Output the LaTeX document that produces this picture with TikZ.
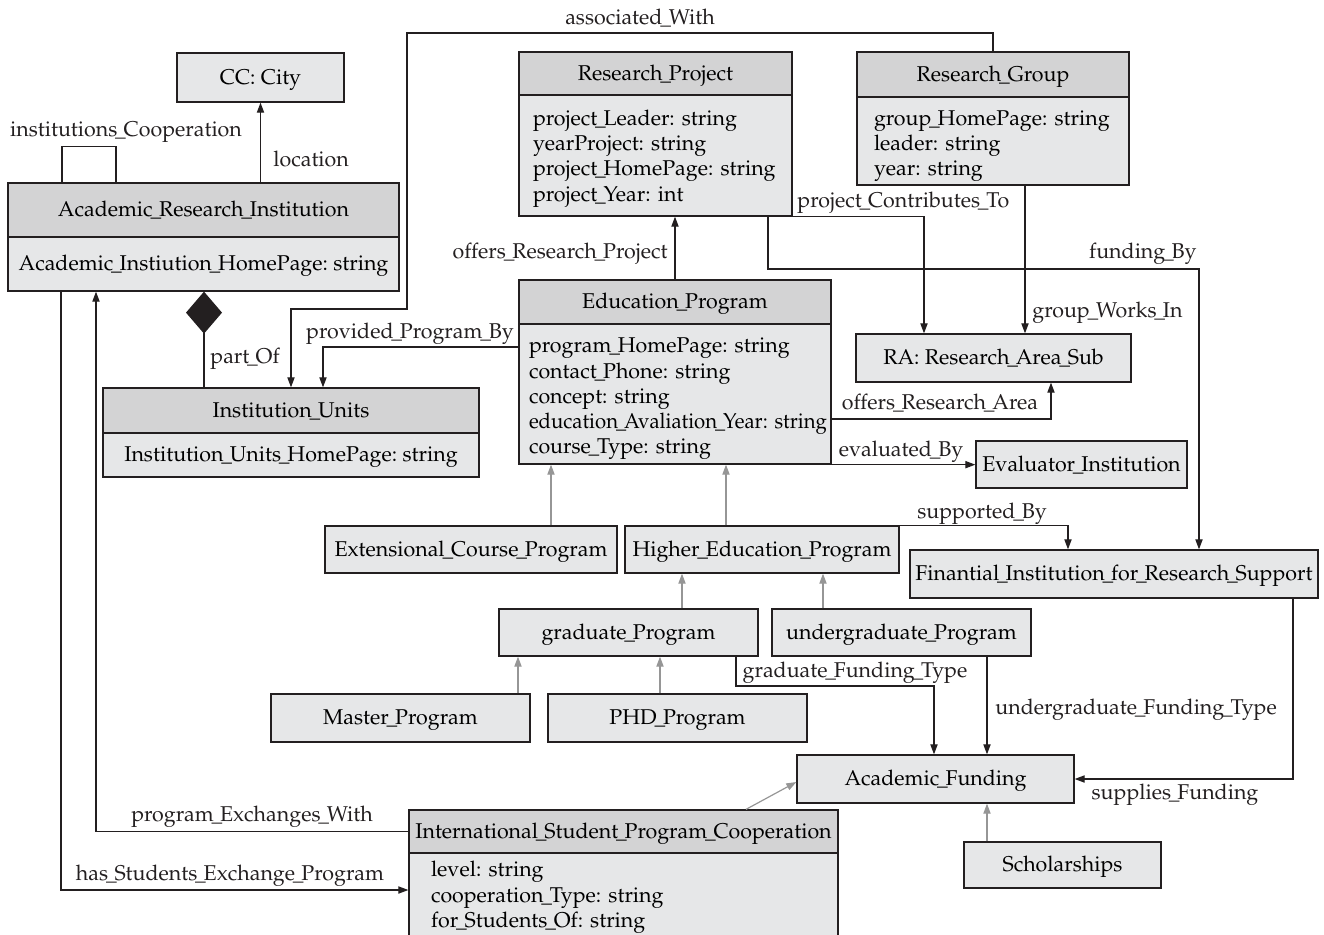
\documentclass[tikz,border=0pt]{standalone}
\usepackage[T1]{fontenc}
\usepackage{mathpazo}
\usetikzlibrary{arrows.meta,shapes.geometric}
\frenchspacing
\definecolor{hdrc}{RGB}{211,211,212}
\definecolor{bodyc}{RGB}{230,231,232}
\definecolor{linec}{RGB}{35,31,32}
\definecolor{gline}{RGB}{150,150,150}
\newcommand\us{\kern-1.1pt\_\kern-1.1pt}
\newcommand\mybox[7]{\node[#1, minimum width={(#5-#3)*0.5pt}, minimum height={(#6-#4)*0.5pt}] (#2) at ({(#3+#5)/2},{(#4+#6)/2}) {#7};}
\tikzset{
  fnt/.style={font={\fontsize{10.7pt}{12.65pt}\selectfont}},
  oneline/.style={text height=7.3pt, text depth=0.7pt},
  boxbase/.style={fnt, draw=linec, line width=0.65pt, inner sep=0pt},
  hdr/.style={boxbase, oneline, fill=hdrc},
  body/.style={boxbase, oneline, fill=bodyc},
  attrs/.style={boxbase, fill=bodyc, align=left, inner ysep=0pt},
  lbl/.style={fnt, oneline, inner sep=0pt, text=linec},
  arr/.style={draw=linec, line width=0.6pt, -{Triangle[length=5pt,width=3.6pt]}},
  garr/.style={draw=gline, line width=0.6pt, -{Triangle[length=5pt,width=3.6pt]}},
  conn/.style={draw=linec, line width=0.6pt}
}
\begin{document}
\begin{tikzpicture}[x=0.5pt, y=-0.5pt]
\useasboundingbox (0,0) rectangle (1324,934);
% ---------- boxes ----------
\mybox{body}{cc}{177}{53}{344}{102}{CC: City}
\mybox{hdr}{arih}{8}{183}{399}{237}{Academic\us Research\us Institution}
\mybox{body}{arib}{8}{237}{399}{291}{Academic\us Instiution\us HomePage: string}
\mybox{hdr}{rph}{519}{52}{792}{95}{Research\us Project}
\node[attrs, text width=122.5pt, inner xsep=7pt, minimum height=60.5pt] (rpb) at (655.5,155.5)
  {\rule{0pt}{10.8pt}\mbox{project\us Leader: string}\\\mbox{yearProject: string}\\\mbox{project\us HomePage: string}\\\mbox{project\us Year: int}};
\mybox{hdr}{rgh}{857}{52}{1129}{97}{Research\us Group}
\node[attrs, text width=119pt, inner xsep=8.5pt, minimum height=44pt] (rgb) at (993,141)
  {\rule{0pt}{12.6pt}\mbox{group\us HomePage: string}\\\mbox{leader: string}\\\mbox{year: string}};
\mybox{hdr}{eph}{519}{280}{831}{324}{Education\us Program}
\node[attrs, text width=146pt, inner xsep=5pt, minimum height=70pt] (epb) at (675,394)
  {\rule{0pt}{12.4pt}\mbox{program\us HomePage: string}\\\mbox{contact\us Phone: string}\\\mbox{concept: string}\\\scalebox{0.95}[1]{education\us Avaliation\us Year: string}\\\mbox{course\us Type: string}};
\mybox{hdr}{iuh}{103}{388}{479}{433}{Institution\us Units}
\mybox{body}{iub}{103}{433}{479}{477}{Institution\us Units\us HomePage: string}
\mybox{body}{ra}{856}{334}{1131}{382}{RA: Research\us Area\us Sub}
\mybox{body}{ev}{976}{441}{1187}{488}{Evaluator\us Institution}
\mybox{body}{ext}{325}{526}{617}{573}{Extensional\us Course\us Program}
\mybox{body}{hep}{625}{526}{899}{573}{Higher\us Education\us Program}
\mybox{body}{fin}{910}{550}{1318}{598}{Finantial\us Institution\us for\us Research\us Support}
\mybox{body}{grad}{499}{609}{758}{656}{graduate\us Program}
\mybox{body}{ugrad}{772}{609}{1031}{656}{undergraduate\us Program}
\mybox{body}{master}{271}{694}{530}{742}{Master\us Program}
\mybox{body}{phd}{548}{694}{807}{742}{PHD\us Program}
\mybox{body}{af}{797}{755}{1074}{803}{Academic\us Funding}
\mybox{body}{schol}{964}{842}{1161}{888}{Scholarships}
\mybox{hdr}{ispch}{409}{810}{838}{853}{International\us Student\us Program\us Cooperation}
\node[attrs, text width=192.5pt, inner xsep=11pt, minimum height=44.5pt] (ispcb) at (623.5,897.5)
  {\mbox{level: string}\\\mbox{cooperation\us Type: string}\\\mbox{for\us Students\us Of: string}};
% ---------- connectors ----------
\draw[conn] (arih.north -| 62,0) -- ++(0,-36) -| (arih.north -| 116,0);
\draw[arr] (arih.north -| cc.south) -- (cc.south);
\draw[arr] (rgh.north) |- (407,33) |- (291,309) -- (iuh.north -| 291,0);
\draw[conn, {Diamond[length=21pt,width=18pt]}-] (arib.south -| 204,0) -- (iuh.north -| 204,0);
\draw[arr] (epb.west |- 0,347) -| (iuh.north -| 323,0);
\draw[arr] (eph.north -| 675,0) -- (rpb.south -| 675,0);
\draw[arr] (rpb.south east) -| (ra.north -| 924,0);
\draw[arr] (rpb.south -| 768,0) |- (1199,269) -- (fin.north -| 1199,0);
\draw[arr] (rgb.south -| 1025,0) -- (ra.north -| 1025,0);
\draw[arr] (epb.east |- 0,419) -| (ra.south -| 1051,0);
\draw[arr] (epb.south east) -- (ev.west |- epb.south east);
\draw[garr] (ext.north -| 551,0) -- (epb.south -| 551,0);
\draw[garr] (hep.north -| 726,0) -- (epb.south -| 726,0);
\draw[arr] (hep.north east) -| (fin.north -| 1068,0);
\draw[garr] (grad.north -| 682,0) -- (hep.south -| 682,0);
\draw[garr] (ugrad.north -| 823,0) -- (hep.south -| 823,0);
\draw[garr] (master.north -| 518,0) -- (grad.south -| 518,0);
\draw[garr] (phd.north -| 660,0) -- (grad.south -| 660,0);
\draw[arr] (grad.south -| 736,0) |- (934,686) -- (af.north -| 934,0);
\draw[arr] (ugrad.south -| 987,0) -- (af.north -| 987,0);
\draw[arr] (fin.south -| 1293,0) |- (af.east);
\draw[garr] (ispch.north -| 746,0) -- (af.west |- 0,782);
\draw[garr] (schol.north -| 987,0) -- (af.south -| 987,0);
\draw[arr] (ispch.west) -| (arib.south -| 96,0);
\draw[arr] (arib.south -| 61,0) |- (ispcb.west |- 0,890);
% ---------- labels ----------
\node[lbl] (l-ic) at (126,130) {institutions\us Cooperation};
\node[lbl, anchor=west] (l-loc) at (273,160) {location};
\node[lbl] (l-aw) at (640,18) {associated\us With};
\node[lbl, anchor=west] (l-po) at (210,357) {part\us Of};
\node[lbl] (l-ppb) at (410,332) {provided\us Program\us By};
\node[lbl, anchor=east] (l-orp) at (668,252) {offers\us Research\us Project};
\node[lbl, anchor=west] (l-pct) at (797,201) {project\us Contributes\us To};
\node[lbl, anchor=east] (l-fb) at (1197,252) {funding\us By};
\node[lbl, anchor=west] (l-gwi) at (1032,311) {group\us Works\us In};
\node[lbl] (l-ora) at (940,403) {offers\us Research\us Area};
\node[lbl] (l-eb) at (901,450) {evaluated\us By};
\node[lbl] (l-sb) at (982,512) {supported\us By};
\node[lbl] (l-gft) at (855,671) {graduate\us Funding\us Type};
\node[lbl, anchor=west] (l-uft) at (995,708) {undergraduate\us Funding\us Type};
\node[lbl] (l-sf) at (1175,793) {supplies\us Funding};
\node[lbl] (l-pew) at (252,815) {program\us Exchanges\us With};
\node[lbl] (l-hsep) at (230,874) {has\us Students\us Exchange\us Program};
\end{tikzpicture}
\end{document}
